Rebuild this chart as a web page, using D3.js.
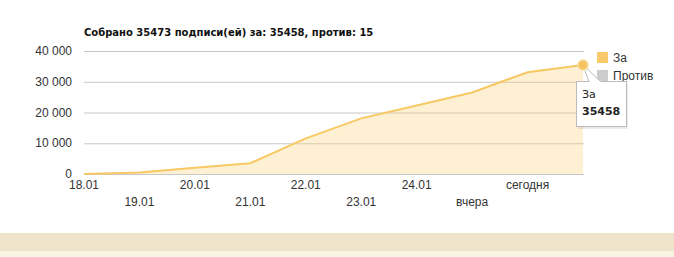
<!DOCTYPE html>
<html>
<head>
<meta charset="utf-8">
<script src="https://cdn.jsdelivr.net/npm/d3@7"></script>
<style>
  body { margin: 0; background: #fff; }
  svg { display: block; }
</style>
</head>
<body>
<div id="chart"></div>
<script>
// data
const dayLabels = ["18.01", "19.01", "20.01", "21.01", "22.01", "23.01", "24.01", "вчера", "сегодня", ""];
const zaValues = [0, 500, 2000, 3500, 11600, 18100, 22300, 26500, 33100, 35458];
const yTicks = [0, 10000, 20000, 30000, 40000];
const legendNames = ["За", "Против"];
const legendColors = ["#f9c96c", "#cccccc"];
const titleText = "Собрано 35473 подписи(ей) за: 35458, против: 15";

const W = 674, H = 257;
const svg = d3.select("#chart").append("svg")
  .attr("width", W).attr("height", H);

const x = d3.scaleLinear().domain([0, zaValues.length - 1]).range([84, 583]);
const y = d3.scaleLinear().domain([0, 40000]).range([174, 51]);

// bottom band
svg.append("rect").attr("x", 0).attr("y", 233).attr("width", W).attr("height", 18).attr("fill", "#efe4ca");
svg.append("rect").attr("x", 0).attr("y", 251).attr("width", W).attr("height", 6).attr("fill", "#f9f3e4");

// title
svg.append("text")
  .attr("x", 84).attr("y", 36)
  .style("font-family", "'DejaVu Sans', Verdana, sans-serif")
  .style("font-weight", "bold").style("font-size", "10px")
  .attr("fill", "#111")
  .text(titleText);

// grid
const fmt = d => d3.format(",")(d).replace(/,/g, " ");
svg.append("g").selectAll("line")
  .data(yTicks.filter(d => d > 0))
  .enter().append("line")
  .attr("x1", 84).attr("x2", 584)
  .attr("y1", d => y(d) + 0.5).attr("y2", d => y(d) + 0.5)
  .attr("stroke", "#c8c8c8");

// y labels
svg.append("g").selectAll("text")
  .data(yTicks)
  .enter().append("text")
  .attr("x", 72).attr("y", d => y(d) + 4)
  .attr("text-anchor", "end")
  .style("font-family", "'Liberation Sans', Arial, sans-serif")
  .style("font-size", "12px")
  .attr("fill", "#333")
  .text(fmt);

// area + line
const pts = zaValues.map((v, i) => [i, v]);
svg.append("path")
  .datum(pts)
  .attr("d", d3.area().x(d => x(d[0])).y0(y(0)).y1(d => y(d[1])))
  .attr("fill", "#fbcf6e").attr("fill-opacity", 0.3);

svg.append("line")
  .attr("x1", 84).attr("x2", 584)
  .attr("y1", y(0) + 0.5).attr("y2", y(0) + 0.5)
  .attr("stroke", "#c8c8c8");

svg.append("path")
  .datum(pts)
  .attr("d", d3.line().x(d => x(d[0])).y(d => y(d[1])))
  .attr("fill", "none").attr("stroke", "#f7c863").attr("stroke-width", 2);

// x labels, alternating rows
svg.append("g").selectAll("text")
  .data(dayLabels)
  .enter().append("text")
  .attr("x", (d, i) => x(i))
  .attr("y", (d, i) => i % 2 === 0 ? 189 : 206)
  .attr("text-anchor", "middle")
  .style("font-family", "'Liberation Sans', Arial, sans-serif")
  .style("font-size", "12px")
  .attr("fill", "#333")
  .text(d => d);

// legend
const leg = svg.append("g").selectAll("g")
  .data(legendNames)
  .enter().append("g")
  .attr("transform", (d, i) => "translate(597," + (52 + i * 18) + ")");
leg.append("rect").attr("width", 11).attr("height", 11).attr("fill", (d, i) => legendColors[i]);
leg.append("text")
  .attr("x", 16).attr("y", 10)
  .style("font-family", "'Liberation Sans', Arial, sans-serif")
  .style("font-size", "12px")
  .attr("fill", "#333")
  .text(d => d);

// tooltip on last point
const last = zaValues.length - 1;
const px = x(last), py = y(zaValues[last]);
const tip = svg.append("g");
tip.append("rect")
  .attr("x", 578).attr("y", 84).attr("width", 50).attr("height", 45)
  .attr("fill", "#000").attr("opacity", 0.08);
tip.append("path")
  .attr("d", `M${px},${py} L${px + 18},${py + 17} L${px + 6},${py + 17} Z`)
  .attr("fill", "#fff").attr("stroke", "#bbb");
tip.append("rect")
  .attr("x", 576.5).attr("y", 81.5).attr("width", 50).attr("height", 45)
  .attr("fill", "#fff").attr("stroke", "#bbb");
tip.append("rect")
  .attr("x", px + 6.5).attr("y", py + 16).attr("width", 11).attr("height", 2)
  .attr("fill", "#fff");
tip.append("text")
  .attr("x", 582).attr("y", 98)
  .style("font-family", "'DejaVu Sans', Verdana, sans-serif")
  .style("font-size", "11px").attr("fill", "#222")
  .text(legendNames[0]);
tip.append("text")
  .attr("x", 582).attr("y", 115)
  .style("font-family", "'DejaVu Sans', Verdana, sans-serif")
  .style("font-weight", "bold")
  .style("font-size", "11px").attr("fill", "#222")
  .text(zaValues[last]);

svg.append("circle")
  .attr("cx", px).attr("cy", py).attr("r", 5)
  .attr("fill", "#f6c45f").attr("stroke", "#fadc9c").attr("stroke-width", 1.5);
</script>
</body>
</html>
